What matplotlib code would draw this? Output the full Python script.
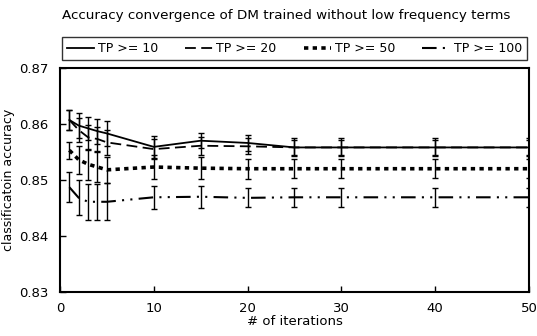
import numpy as np
import matplotlib
matplotlib.use("Agg")
import matplotlib.pyplot as plt
from matplotlib import rcParams

rcParams['font.family'] = ['DejaVu Sans']
rcParams['font.size'] = 9

# data
iterations = [1, 2, 3, 4, 5, 10, 15, 20, 25, 30, 40, 50]

acc_tp10 = [0.8607, 0.8597, 0.8592, 0.8587, 0.8583, 0.8559, 0.8570, 0.8566, 0.8558, 0.8558, 0.8558, 0.8558]
err_tp10 = [0.0018, 0.0022, 0.0021, 0.0022, 0.0022, 0.0020, 0.0013, 0.0014, 0.0016, 0.0016, 0.0016, 0.0016]

acc_tp20 = [0.8607, 0.8589, 0.8576, 0.8573, 0.8567, 0.8555, 0.8561, 0.8560, 0.8558, 0.8558, 0.8558, 0.8558]
err_tp20 = [0.0018, 0.0022, 0.0022, 0.0022, 0.0022, 0.0018, 0.0016, 0.0014, 0.0014, 0.0014, 0.0014, 0.0014]

acc_tp50 = [0.8553, 0.8536, 0.8528, 0.8523, 0.8518, 0.8523, 0.8521, 0.8520, 0.8520, 0.8520, 0.8520, 0.8520]
err_tp50 = [0.0015, 0.0025, 0.0028, 0.0026, 0.0023, 0.0022, 0.0020, 0.0018, 0.0017, 0.0017, 0.0017, 0.0017]

acc_tp100 = [0.8487, 0.8468, 0.8461, 0.8461, 0.8461, 0.8469, 0.8470, 0.8468, 0.8469, 0.8469, 0.8469, 0.8469]
err_tp100 = [0.0027, 0.0031, 0.0032, 0.0032, 0.0033, 0.0021, 0.0020, 0.0017, 0.0017, 0.0017, 0.0017, 0.0017]

labels = ['TP >= 10', 'TP >= 20', 'TP >= 50', 'TP >= 100']

fig = plt.figure(figsize=(5.37, 3.36), dpi=100)
ax = fig.add_axes([0.1117, 0.131, 0.8733, 0.667])

series = [
    (acc_tp10, err_tp10, dict(linestyle='-', linewidth=1.3)),
    (acc_tp20, err_tp20, dict(linestyle=(0, (6, 3)), linewidth=1.3)),
    (acc_tp50, err_tp50, dict(linestyle=(0, (1.2, 1.2)), linewidth=2.6)),
    (acc_tp100, err_tp100, dict(linestyle=(0, (7, 3, 1, 3, 1, 3)), linewidth=1.5)),
]

handles = []
for (acc, err, style), lab in zip(series, labels):
    ax.errorbar(iterations, acc, yerr=err, fmt='none', ecolor='black',
                elinewidth=1.0, capsize=2.5, capthick=1.0, zorder=2)
    h, = ax.plot(iterations, acc, color='black', label=lab, zorder=3, **style)
    handles.append(h)

ax.set_xlim(0, 50)
ax.set_ylim(0.83, 0.87)
ax.set_xticks([0, 10, 20, 30, 40, 50])
ax.set_yticks([0.83, 0.84, 0.85, 0.86, 0.87])
ax.set_yticklabels(['0.83', '0.84', '0.85', '0.86', '0.87'])
ax.tick_params(direction='in', length=4, width=1, labelsize=9.5)
ax.tick_params(axis='x', pad=7)
ax.tick_params(axis='y', pad=8)
for sp in ax.spines.values():
    sp.set_linewidth(1.5)

ax.set_xlabel('# of iterations', fontsize=9.5, labelpad=0)
ax.set_ylabel('classificatoin accuracy', fontsize=9, labelpad=3)

fig.text(0.115, 0.955, 'Accuracy convergence of DM trained without low frequency terms',
         fontsize=9.7, ha='left', va='center')

leg = fig.legend(handles=handles, loc='lower left', ncol=4, mode='expand',
                 bbox_to_anchor=(0.115, 0.821, 0.866, 0.081), frameon=True,
                 fancybox=False, edgecolor='black', fontsize=9,
                 handlelength=2.2, handletextpad=0.3, borderaxespad=0,
                 columnspacing=1.0)
leg.get_frame().set_linewidth(1.0)

fig.savefig('out.png', dpi=100)
